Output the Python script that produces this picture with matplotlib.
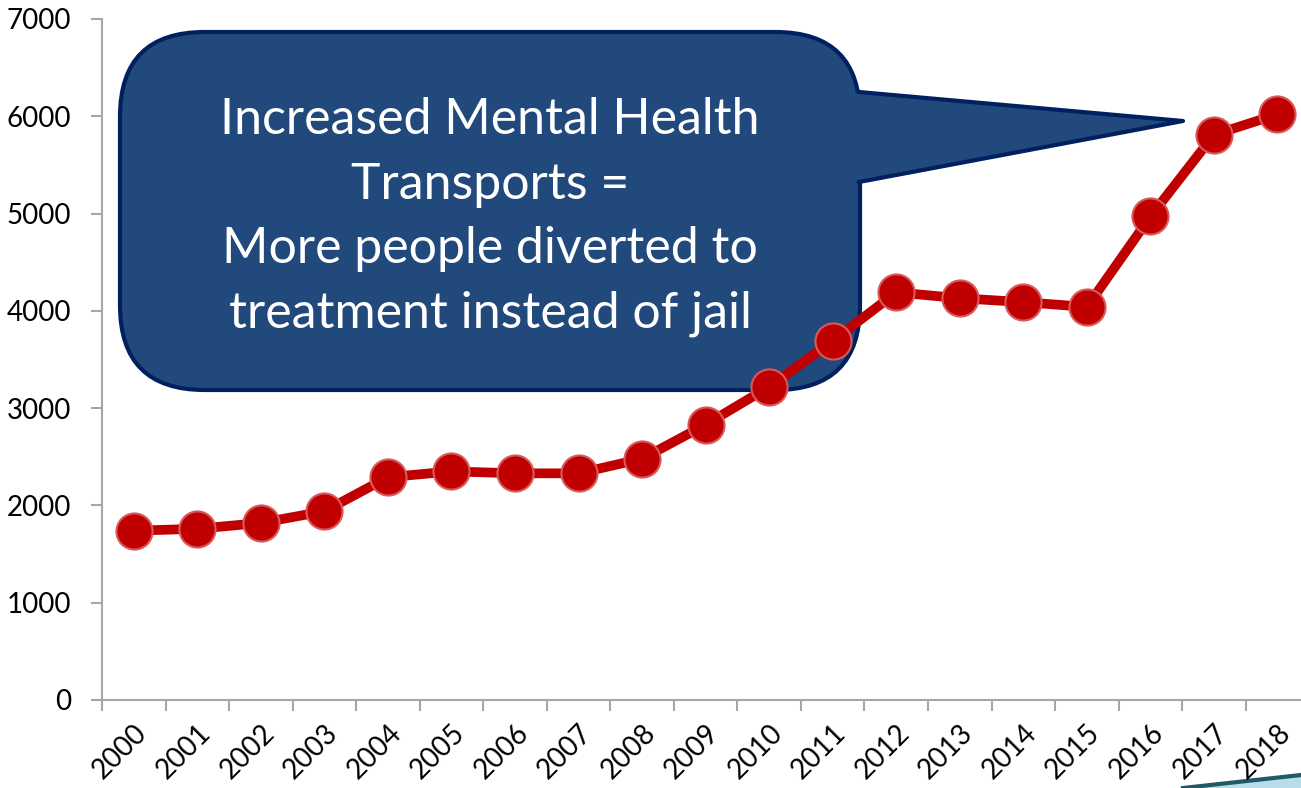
import matplotlib
matplotlib.use("Agg")
import matplotlib.pyplot as plt
from matplotlib.patches import FancyBboxPatch, Polygon
from matplotlib.lines import Line2D

# data
years = ["2000", "2001", "2002", "2003", "2004", "2005", "2006", "2007", "2008", "2009",
         "2010", "2011", "2012", "2013", "2014", "2015", "2016", "2017", "2018"]
transports = [1740, 1760, 1820, 1940, 2290, 2350, 2330, 2330, 2480, 2830,
              3220, 3690, 4190, 4130, 4090, 4040, 4970, 5810, 6020]
yticks = [0, 1000, 2000, 3000, 4000, 5000, 6000, 7000]
callout_text = "Increased Mental Health\nTransports =\nMore people diverted to\ntreatment instead of jail"

W, H = 1301, 788
plt.rcParams['font.family'] = ['Lato', 'DejaVu Sans']

fig = plt.figure(figsize=(W / 100, H / 100), dpi=100)
ax = fig.add_axes([102 / W, (H - 700) / H, 1 - 102 / W, (700 - 19) / H])

x = list(range(len(years)))
ax.plot(x, transports, color="#C00000", lw=7, marker="o", ms=26,
        mfc="#C00000", mec="#D9595A", mew=1.5, zorder=5, clip_on=False)

ax.set_ylim(0, 7000)
ax.set_xlim(-0.5, 18.37)
ax.set_yticks(yticks)
ax.set_yticklabels([str(v) for v in yticks], fontsize=20)
ax.set_xticks([i - 0.5 for i in range(len(years))])
ax.set_xticklabels([])
ax.set_xticks(x, minor=True)
ax.set_xticklabels(years, minor=True, rotation=45, ha="right", va="top",
                   rotation_mode="anchor", fontsize=20)
ax.tick_params(axis="x", which="minor", length=0, pad=14)
ax.tick_params(axis="x", which="major", length=8, width=1.5, color="#A6A6A6")
ax.tick_params(axis="y", length=8, width=1.5, color="#A6A6A6", pad=14)
for s in ["top", "right"]:
    ax.spines[s].set_visible(False)
for s in ["left", "bottom"]:
    ax.spines[s].set_color("#A6A6A6")
    ax.spines[s].set_linewidth(1.5)


def fx(px):
    return px / W


def fy(py):
    return (H - py) / H


# speech bubble behind the line
fill = "#21497B"
edge = "#002060"
box = FancyBboxPatch((fx(120), fy(390)), fx(860) - fx(120), fy(32) - fy(390),
                     boxstyle="round,pad=0,rounding_size=0.065",
                     transform=fig.transFigure, fc=fill, ec=edge, lw=3,
                     mutation_aspect=W / H, zorder=1)
fig.patches.append(box)
wedge = Polygon([(fx(855), fy(92)), (fx(1183), fy(121)), (fx(855), fy(182))],
                closed=True, transform=fig.transFigure, fc=fill, ec="none", zorder=1.1)
fig.patches.append(wedge)
fig.lines.append(Line2D([fx(859), fx(1183), fx(859)], [fy(92), fy(121), fy(182)],
                        transform=fig.transFigure, color=edge, lw=3,
                        solid_joinstyle="round", zorder=1.2))
fig.text(fx(490), fy(217), callout_text, color="white", fontsize=36,
         ha="center", va="center", linespacing=1.5, zorder=2)
ax.set_zorder(3)
ax.patch.set_alpha(0)

# little corner decoration
fig.patches.append(Polygon([(fx(1183), 0), (fx(1301), fy(775)), (1, 0)], closed=True,
                           transform=fig.transFigure, fc="#B7DEE8", ec="none"))
fig.lines.append(Line2D([fx(1183), fx(1301)], [fy(788), fy(775)],
                        transform=fig.transFigure, color="#215968", lw=3))

fig.savefig("out.png", dpi=100)
